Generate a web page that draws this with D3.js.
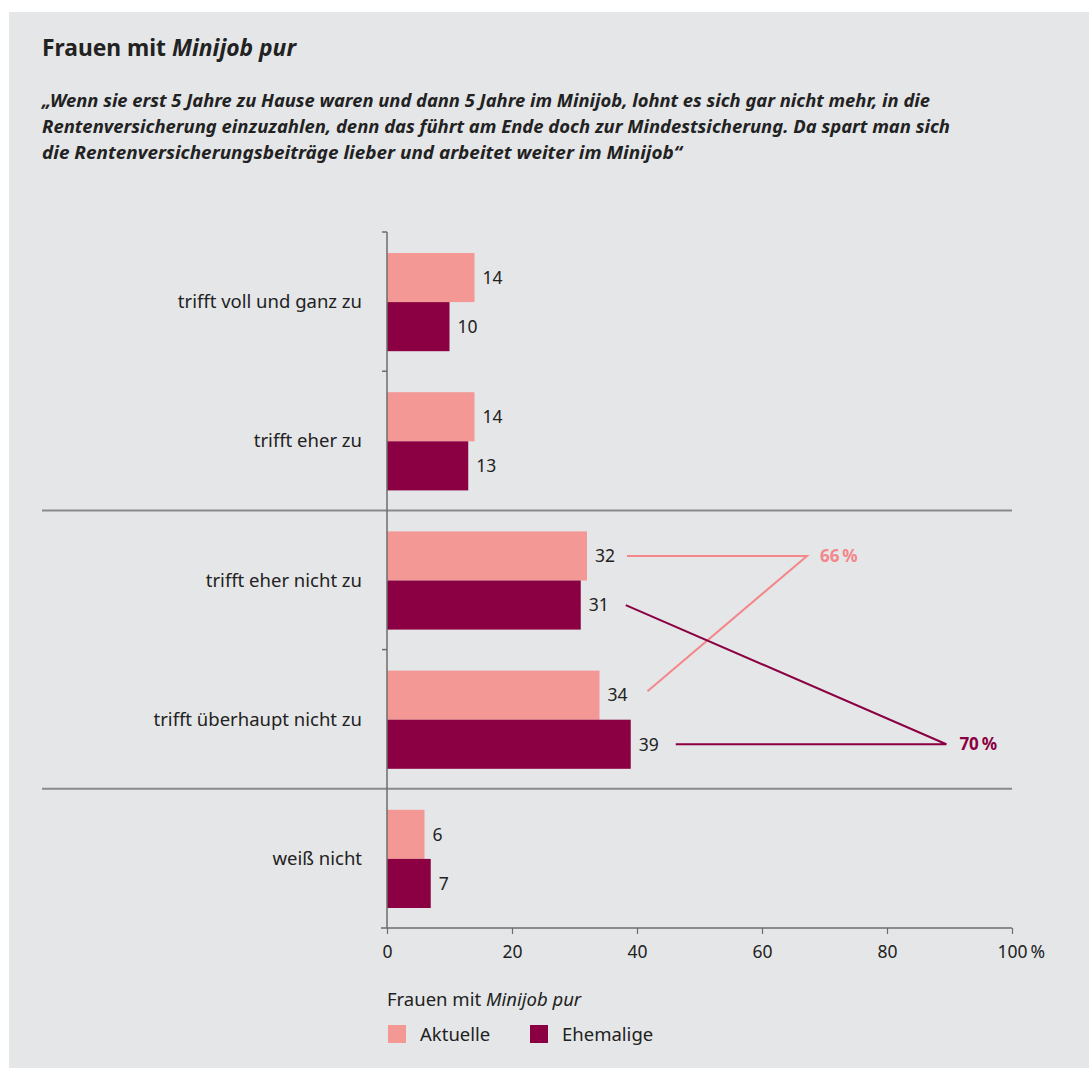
<!DOCTYPE html>
<html>
<head>
<meta charset="utf-8">
<script src="https://cdn.jsdelivr.net/npm/d3@7"></script>
<style>
  body { margin: 0; background: #fff; }
  svg { display: block; font-family: "Noto Sans", "Open Sans", sans-serif; }
</style>
</head>
<body>
<div id="chart"></div>
<script>
// data
const categories = ["trifft voll und ganz zu", "trifft eher zu", "trifft eher nicht zu", "trifft überhaupt nicht zu", "weiß nicht"];
const seriesNames = ["Aktuelle", "Ehemalige"];
const aktuelle = [14, 14, 32, 34, 6];
const ehemalige = [10, 13, 31, 39, 7];
const xTicks = [0, 20, 40, 60, 80, 100];
// summary brackets: which bars they join, the total, and where the bracket tip sits (in % units)
const sums = [
  { series: 0, from: 2, to: 3, total: 66, tip: 67.2 },
  { series: 1, from: 2, to: 3, total: 70, tip: 89.5 }
];
const separators = [2, 4]; // category index above which a full-width rule is drawn

const colors = ["#f49896", "#8a0042"];
const lineColors = ["#f3878a", "#8a0042"];
const textColor = "#222";
const fs = 17.5;
const fsLabel = 18.5;

const W = 1089, H = 1068;
const margin = { top: 232, left: 387, right: 77, bottom: 140 };
const innerW = W - margin.left - margin.right;
const innerH = H - margin.top - margin.bottom;

const svg = d3.select("#chart").append("svg")
  .attr("width", W)
  .attr("height", H);

// grey panel
svg.append("rect")
  .attr("x", 9).attr("y", 12)
  .attr("width", W - 9).attr("height", H - 12)
  .attr("fill", "#e5e6e8");

// titles
svg.append("text")
  .attr("x", 42).attr("y", 56)
  .attr("font-size", 22.8).attr("font-weight", 700).attr("fill", textColor)
  .call(t => {
    t.append("tspan").text("Frauen mit ");
    t.append("tspan").attr("font-style", "italic").text("Minijob pur");
  });

const quote = [
  "„Wenn sie erst 5 Jahre zu Hause waren und dann 5 Jahre im Minijob, lohnt es sich gar nicht mehr, in die",
  "Rentenversicherung einzuzahlen, denn das führt am Ende doch zur Mindestsicherung. Da spart man sich",
  "die Rentenversicherungsbeiträge lieber und arbeitet weiter im Minijob“"
];
const quoteWidths = [888, 908, 640];
svg.append("g").selectAll("text")
  .data(quote)
  .join("text")
  .attr("x", 42)
  .attr("y", (d, i) => 107 + i * 26)
  .attr("font-size", 17).attr("font-weight", 700).attr("font-style", "italic")
  .attr("fill", textColor)
  .attr("textLength", (d, i) => quoteWidths[i])
  .attr("lengthAdjust", "spacingAndGlyphs")
  .text(d => d);

const g = svg.append("g").attr("transform", `translate(${margin.left},${margin.top})`);

const x = d3.scaleLinear().domain([0, 100]).range([0, innerW]);
const y = d3.scaleBand().domain(categories).range([0, innerH]).paddingInner(0).paddingOuter(0);
const sub = d3.scaleBand().domain(seriesNames).range([21, y.bandwidth() - 20]);

// separator rules
g.selectAll(".sep")
  .data(separators)
  .join("line")
  .attr("x1", 42 - margin.left).attr("x2", innerW)
  .attr("y1", i => i * y.step()).attr("y2", i => i * y.step())
  .attr("stroke", "#8a8a8a").attr("stroke-width", 2);

// bars
const rows = categories.map((c, i) => ({ cat: c, vals: [aktuelle[i], ehemalige[i]] }));
const row = g.selectAll(".row")
  .data(rows)
  .join("g")
  .attr("transform", d => `translate(0,${y(d.cat)})`);

row.selectAll("rect")
  .data(d => d.vals.map((v, k) => ({ v, k })))
  .join("rect")
  .attr("x", 0)
  .attr("y", d => sub(seriesNames[d.k]))
  .attr("width", d => x(d.v))
  .attr("height", sub.bandwidth())
  .attr("fill", d => colors[d.k]);

row.selectAll(".val")
  .data(d => d.vals.map((v, k) => ({ v, k })))
  .join("text")
  .attr("x", d => x(d.v) + 8)
  .attr("y", d => sub(seriesNames[d.k]) + sub.bandwidth() / 2)
  .attr("dy", "0.36em")
  .attr("font-size", fs).attr("fill", textColor)
  .text(d => d.v);

// category labels
row.append("text")
  .attr("x", -25)
  .attr("y", y.bandwidth() / 2)
  .attr("dy", "0.36em")
  .attr("text-anchor", "end")
  .attr("font-size", fsLabel).attr("fill", textColor)
  .text(d => d.cat);

// y axis line with small ticks at band edges
g.append("line")
  .attr("x1", 0).attr("x2", 0).attr("y1", 0).attr("y2", innerH)
  .attr("stroke", "#6d6d6d").attr("stroke-width", 1.5);
g.selectAll(".ytick")
  .data(d3.range(0, categories.length).filter(i => !separators.includes(i)))
  .join("line")
  .attr("x1", -5).attr("x2", 0)
  .attr("y1", i => i * y.step()).attr("y2", i => i * y.step())
  .attr("stroke", "#6d6d6d").attr("stroke-width", 1.5);

// x axis
const xAxis = g.append("g")
  .attr("transform", `translate(0,${innerH})`)
  .call(d3.axisBottom(x).tickValues(xTicks).tickSize(6).tickSizeOuter(0).tickPadding(12));
xAxis.select(".domain").attr("stroke", "#6d6d6d").attr("stroke-width", 1.5).attr("d", `M-6,0H${innerW}`);
xAxis.selectAll(".tick line").attr("stroke", "#6d6d6d").attr("stroke-width", 1.2);
xAxis.selectAll(".tick text")
  .attr("font-size", fs).attr("fill", textColor).attr("font-family", "Noto Sans, sans-serif");
// last tick: "100" stays centred on the tick, the unit follows it
xAxis.selectAll(".tick text").filter(d => d === 100).each(function () {
  const t = d3.select(this);
  const w = this.getComputedTextLength();
  t.attr("text-anchor", "start").attr("x", -w / 2);
  t.append("tspan").attr("dx", 3).text("%");
});

// sum brackets
sums.forEach(s => {
  const vals = s.series === 0 ? aktuelle : ehemalige;
  const yOf = i => y(categories[i]) + sub(seriesNames[s.series]) + sub.bandwidth() / 2;
  const labelEnd = i => x(vals[i]) + 45;
  const tipX = x(s.tip);
  // the row level with the tip gets the straight stroke, the other the diagonal
  const straight = s.series === 0 ? s.from : s.to;
  const diag = s.series === 0 ? s.to : s.from;
  const tipY = yOf(straight);
  const path = d3.path();
  path.moveTo(labelEnd(straight) - (s.series === 0 ? 5 : 0), tipY);
  path.lineTo(tipX, tipY);
  path.lineTo(labelEnd(diag) + (s.series === 0 ? 3 : 0), yOf(diag) - (s.series === 0 ? 4 : 0));
  g.append("path")
    .attr("d", path.toString())
    .attr("fill", "none")
    .attr("stroke", lineColors[s.series])
    .attr("stroke-width", 2);
  g.append("text")
    .attr("x", tipX + 13).attr("y", tipY)
    .attr("dy", "0.36em")
    .attr("font-size", 17).attr("font-weight", 700)
    .attr("fill", lineColors[s.series])
    .text(s.total + "\u2009%");
});

// legend
const legend = svg.append("g").attr("transform", `translate(${margin.left},0)`);
legend.append("text")
  .attr("x", 0).attr("y", 1006)
  .attr("font-size", fsLabel).attr("fill", textColor)
  .call(t => {
    t.append("tspan").text("Frauen mit ");
    t.append("tspan").attr("font-style", "italic").text("Minijob pur");
  });
const legendX = [1, 143];
const item = legend.selectAll(".item")
  .data(seriesNames)
  .join("g")
  .attr("transform", (d, i) => `translate(${legendX[i]},1025)`);
item.append("rect")
  .attr("width", 18).attr("height", 18)
  .attr("fill", (d, i) => colors[i]);
item.append("text")
  .attr("x", 32).attr("y", 9).attr("dy", "0.36em")
  .attr("font-size", fsLabel).attr("fill", textColor)
  .text(d => d);
</script>
</body>
</html>
